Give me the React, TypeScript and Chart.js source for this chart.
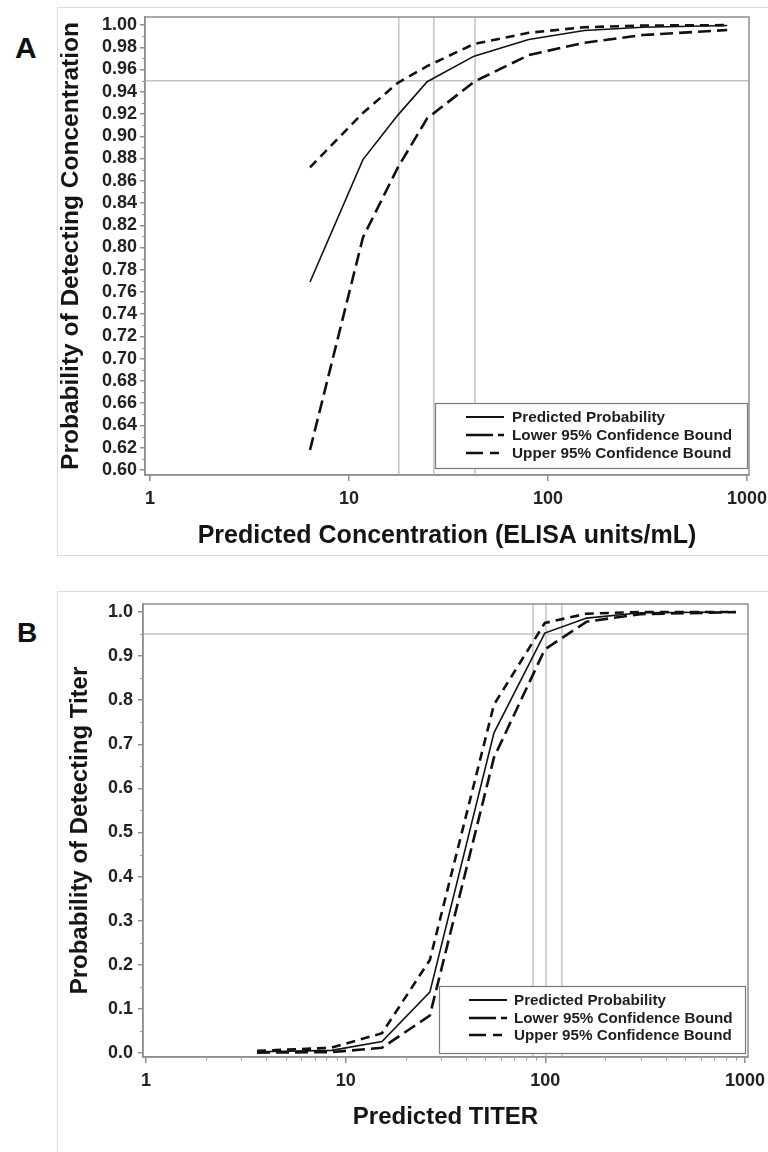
import React, { useEffect, useRef } from "react";
import { Chart, registerables } from "chart.js";

Chart.register(...registerables);

const FONT = "'Liberation Sans', Arial, Helvetica, sans-serif";
Chart.defaults.font.family = FONT;

// ---------- Panel A data ----------
const concA = [6.37, 11.75, 17.6, 24.7, 42.5, 80, 152, 300, 795];
const predA = [0.769, 0.879, 0.919, 0.949, 0.972, 0.987, 0.995, 0.998, 0.9995];
const lowerA = [0.618, 0.809, 0.872, 0.916, 0.949, 0.973, 0.984, 0.991, 0.9955];
const upperA = [0.872, 0.921, 0.948, 0.963, 0.983, 0.993, 0.998, 0.9995, 0.9999];
const refXA = [17.8, 26.7, 43.0];
const yTicksA = [0.6, 0.62, 0.64, 0.66, 0.68, 0.7, 0.72, 0.74, 0.76, 0.78, 0.8, 0.82, 0.84, 0.86, 0.88, 0.9, 0.92, 0.94, 0.96, 0.98, 1.0];
const yMinorA = [0.61, 0.63, 0.65, 0.67, 0.69, 0.71, 0.73, 0.75, 0.77, 0.79, 0.81, 0.83, 0.85, 0.87, 0.89, 0.91, 0.93, 0.95, 0.97, 0.99];
const xMinorA: number[] = [];

// ---------- Panel B data ----------
const titerB = [3.6, 8.5, 15.2, 26.4, 55.3, 99.4, 161, 300, 898];
const predB = [0.003, 0.006, 0.026, 0.138, 0.726, 0.952, 0.986, 0.998, 0.9999];
const lowerB = [0.001, 0.002, 0.012, 0.085, 0.67, 0.915, 0.978, 0.995, 0.9995];
const upperB = [0.005, 0.012, 0.045, 0.211, 0.79, 0.975, 0.996, 1.0, 1.0];
const refXB = [86.7, 100.7, 121];
const yTicksB = [0.0, 0.1, 0.2, 0.3, 0.4, 0.5, 0.6, 0.7, 0.8, 0.9, 1.0];
const yMinorB = [0.05, 0.15, 0.25, 0.35, 0.45, 0.55, 0.65, 0.75, 0.85, 0.95];
const xMinorB = [2, 3, 4, 5, 6, 7, 8, 9, 20, 30, 40, 50, 60, 70, 80, 90, 200, 300, 400, 500, 600, 700, 800, 900];

const xTicks = [1, 10, 100, 1000];
const refY = 0.95;
const seriesLabels = ["Predicted Probability", "Lower 95% Confidence Bound", "Upper 95% Confidence Bound"];

const decorPlugin = {
  id: "decor",
  afterDraw(chart: any, _args: any, opts: any) {
    const { ctx, chartArea: ca, scales } = chart;
    ctx.save();
    // frame
    ctx.strokeStyle = "#8f8f8f";
    ctx.lineWidth = 1.5;
    ctx.setLineDash([]);
    ctx.strokeRect(ca.left, ca.top, ca.right - ca.left, ca.bottom - ca.top);
    // minor ticks
    ctx.strokeStyle = "#9a9a9a";
    ctx.lineWidth = 1;
    for (const v of opts.yMinor) {
      const y = Math.round(scales.y.getPixelForValue(v)) + 0.5;
      ctx.beginPath();
      ctx.moveTo(ca.left - 3, y);
      ctx.lineTo(ca.left, y);
      ctx.stroke();
    }
    for (const v of opts.xMinor) {
      const x = Math.round(scales.x.getPixelForValue(v)) + 0.5;
      ctx.beginPath();
      ctx.moveTo(x, ca.bottom);
      ctx.lineTo(x, ca.bottom + 3.5);
      ctx.stroke();
    }
    // legend
    const L = opts.legend;
    const bx = ca.right - L.rightInset - L.w;
    const by = ca.bottom - L.bottomInset - L.h;
    ctx.fillStyle = "#ffffff";
    ctx.fillRect(bx, by, L.w, L.h);
    ctx.strokeStyle = "#7a7a7a";
    ctx.lineWidth = 1.2;
    ctx.strokeRect(bx + 0.5, by + 0.5, L.w, L.h);
    const items = L.items;
    items.forEach((it: any, i: number) => {
      const y = by + L.rows[i];
      ctx.beginPath();
      ctx.setLineDash(it.dash);
      ctx.lineWidth = it.width;
      ctx.strokeStyle = "#111";
      ctx.moveTo(bx + L.sampleX, y);
      ctx.lineTo(bx + L.sampleX + it.len, y);
      ctx.stroke();
      ctx.setLineDash([]);
      ctx.fillStyle = "#1e1e1e";
      ctx.font = `bold ${L.fontSize}px ${FONT}`;
      ctx.textBaseline = "middle";
      ctx.textAlign = "left";
      ctx.fillText(chart.data.datasets[i].label, bx + L.textX, y + 1);
    });
    ctx.restore();
  },
};

function pts(xs: number[], ys: number[]) {
  return xs.map((x, i) => ({ x, y: ys[i] }));
}

function makeConfig(p: any) {
  const curveStyles = [
    { borderWidth: 1.6, borderDash: [] as number[] },
    { borderWidth: 2.6, borderDash: [13, 6] },
    { borderWidth: 2.6, borderDash: [9, 6] },
  ];
  const curves = [p.pred, p.lower, p.upper].map((ys: number[], i: number) => ({
    label: seriesLabels[i],
    data: pts(p.xs, ys),
    borderColor: "#111",
    borderWidth: curveStyles[i].borderWidth,
    borderDash: curveStyles[i].borderDash,
    pointRadius: 0,
    tension: 0,
    fill: false,
    order: 1,
  }));
  const refs = [
    ...p.refX.map((v: number) => ({
      label: "ref",
      data: [
        { x: v, y: p.yMin },
        { x: v, y: p.yMax },
      ],
      borderColor: "#c4c4c4",
      borderWidth: 1.5,
      pointRadius: 0,
      order: 5,
    })),
    {
      label: "ref",
      data: [
        { x: p.xMin, y: refY },
        { x: p.xMax, y: refY },
      ],
      borderColor: "#c4c4c4",
      borderWidth: 1.5,
      pointRadius: 0,
      order: 5,
    },
  ];
  return {
    type: "line",
    data: { datasets: [...curves, ...refs] },
    options: {
      responsive: false,
      animation: false,
      events: [],
      layout: { padding: { left: 0, top: p.padTop, right: p.padRight, bottom: 0 } },
      plugins: {
        legend: { display: false },
        tooltip: { enabled: false },
        decor: {
          yMinor: p.yMinor,
          xMinor: p.xMinor,
          legend: p.legend,
        },
      },
      scales: {
        x: {
          type: "logarithmic",
          min: p.xMin,
          max: p.xMax,
          afterBuildTicks: (s: any) => {
            s.ticks = xTicks.map((v) => ({ value: v }));
          },
          afterFit: (s: any) => {
            s.height = p.xAxisH;
            s.paddingLeft = 0;
            s.paddingRight = 0;
          },
          ticks: {
            callback: (v: any) => String(v),
            autoSkip: false,
            maxRotation: 0,
            padding: 7,
            color: "#222",
            font: { size: 18, weight: "bold" },
          },
          grid: { drawOnChartArea: false, tickLength: 6, color: "#8f8f8f", lineWidth: 1.5 },
          border: { display: true, color: "#8f8f8f", width: 1.5 },
          title: {
            display: true,
            text: p.xTitle,
            color: "#151515",
            font: { size: p.xTitleSize, weight: "bold" },
            padding: { top: 0, bottom: p.xTitlePad },
          },
        },
        y: {
          type: "linear",
          min: p.yMin,
          max: p.yMax,
          afterBuildTicks: (s: any) => {
            s.ticks = p.yTicks.map((v: number) => ({ value: v }));
          },
          afterFit: (s: any) => {
            s.width = p.yAxisW;
            s.paddingTop = 0;
            s.paddingBottom = 0;
          },
          ticks: {
            callback: (v: any) => Number(v).toFixed(p.dec),
            autoSkip: false,
            padding: p.yTickPad,
            color: "#222",
            font: { size: 18, weight: "bold" },
          },
          grid: { drawOnChartArea: false, tickLength: 5, color: "#8f8f8f", lineWidth: 1.5 },
          border: { display: true, color: "#8f8f8f", width: 1.5 },
          title: {
            display: true,
            text: p.yTitle,
            color: "#151515",
            font: { size: p.yTitleSize, weight: "bold" },
            padding: { top: p.yTitlePad, bottom: 0 },
          },
        },
      },
    },
    plugins: [decorPlugin],
  };
}

const legendItems = [
  { dash: [] as number[], width: 2, len: 38 },
  { dash: [27, 5], width: 2.6, len: 38 },
  { dash: [17, 7], width: 2.6, len: 33 },
];

const panelA = {
  xs: concA,
  pred: predA,
  lower: lowerA,
  upper: upperA,
  refX: refXA,
  xMin: 0.944,
  xMax: 1023,
  yMin: 0.5955,
  yMax: 1.0072,
  yTicks: yTicksA,
  yMinor: yMinorA,
  xMinor: xMinorA,
  dec: 2,
  padTop: 10,
  padRight: 19,
  xAxisH: 80,
  yAxisW: 88,
  yTickPad: 3,
  xTitlePad: 4,
  yTitlePad: 0,
  xTitleSize: 25,
  yTitleSize: 24.5,
  xTitle: "Predicted Concentration (ELISA units/mL)",
  yTitle: "Probability of Detecting Concentration",
  legend: {
    w: 312,
    h: 65,
    rightInset: 2,
    bottomInset: 7,
    sampleX: 31,
    textX: 77,
    rows: [14, 32, 50],
    fontSize: 15.3,
    items: legendItems,
  },
};

const panelB = {
  xs: titerB,
  pred: predB,
  lower: lowerB,
  upper: upperB,
  refX: refXB,
  xMin: 0.966,
  xMax: 1035,
  yMin: -0.009,
  yMax: 1.018,
  yTicks: yTicksB,
  yMinor: yMinorB,
  xMinor: xMinorB,
  dec: 1,
  padTop: 13,
  padRight: 20,
  xAxisH: 95,
  yAxisW: 86,
  yTickPad: 5,
  xTitlePad: 20,
  yTitlePad: 9,
  xTitleSize: 24,
  yTitleSize: 24,
  xTitle: "Predicted TITER",
  yTitle: "Probability of Detecting Titer",
  legend: {
    w: 306,
    h: 67,
    rightInset: 3,
    bottomInset: 4,
    sampleX: 30,
    textX: 75,
    rows: [14, 32, 49],
    fontSize: 15.2,
    items: legendItems,
  },
};

function ChartCanvas({ cfg, left, top, width, height }: any) {
  const ref = useRef<HTMLCanvasElement | null>(null);
  useEffect(() => {
    if (!ref.current) return;
    const chart = new Chart(ref.current, makeConfig(cfg) as any);
    return () => chart.destroy();
  }, [cfg]);
  return (
    <canvas
      ref={ref}
      width={width}
      height={height}
      style={{ position: "absolute", left, top, width, height }}
    />
  );
}

export default function App() {
  return (
    <div
      style={{
        position: "absolute",
        left: 0,
        top: 0,
        width: 768,
        height: 1152,
        overflow: "hidden",
        background: "#fff",
        fontFamily: FONT,
      }}
    >
      <div
        style={{
          position: "absolute",
          left: 57,
          top: 7,
          width: 730,
          height: 547,
          border: "1.5px solid #dcdcdc",
        }}
      />
      <div
        style={{
          position: "absolute",
          left: 57,
          top: 591,
          width: 730,
          height: 620,
          border: "1.5px solid #dcdcdc",
        }}
      />
      <div
        style={{
          position: "absolute",
          left: 15,
          top: 33,
          fontSize: 30,
          fontWeight: "bold",
          lineHeight: 1,
          color: "#111",
        }}
      >
        A
      </div>
      <div
        style={{
          position: "absolute",
          left: 17,
          top: 619,
          fontSize: 28,
          fontWeight: "bold",
          lineHeight: 1,
          color: "#111",
        }}
      >
        B
      </div>
      <ChartCanvas cfg={panelA} left={57} top={7} width={711} height={548} />
      <ChartCanvas cfg={panelB} left={57} top={591} width={711} height={561} />
    </div>
  );
}
